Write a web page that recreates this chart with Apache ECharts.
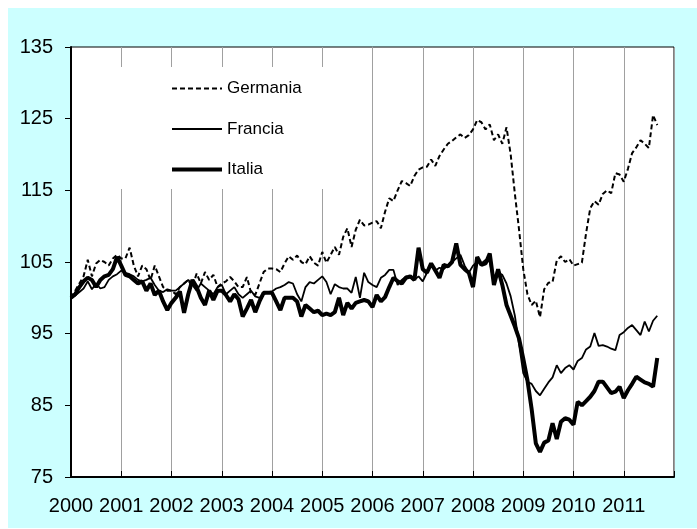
<!DOCTYPE html>
<html>
<head>
<meta charset="utf-8">
<script src="https://cdn.jsdelivr.net/npm/echarts@6/dist/echarts.min.js"></script>
<style>
  html, body { margin: 0; padding: 0; background: #ffffff; width: 697px; height: 529px; overflow: hidden; }
  #c { position: absolute; left: 8px; top: 8px; width: 689px; height: 520px; background: #CCFFFF; }
</style>
</head>
<body>
<div id="c"></div>
<script>
// Tick labels (one per January)
const years = ['2000','2001','2002','2003','2004','2005','2006','2007','2008','2009','2010','2011'];

// Monthly index values, Jan 2000 = 100 (Jan 2000 .. Sep 2011)
const germania = [
  100, 101, 102, 103, 105.3, 103, 104.8, 105.3, 105, 104.5, 105.5, 106,
  105.5, 105.5, 107, 104.5, 103, 104.5, 104, 102.5, 104.5, 103, 101.5, 101,
  101, 100.5, 101.5, 102, 102.5, 101.5, 103.4, 102, 103.6, 102.5, 103.2, 101.5,
  102, 102.3, 102.9, 102.3, 101.5, 101.5, 102.9, 100.7, 100.4, 102, 103.6, 104.1,
  104.1, 104, 103.6, 104.8, 105.8, 105.3, 105.9, 105, 104.7, 105.8, 104.9, 104.5,
  106.4, 104.9, 106, 107.1, 106, 108.5, 109.7, 107.1, 109.5, 110.9, 110.1, 110.2,
  110.5, 110.7, 109.7, 112, 113.9, 113.5, 115, 116.3, 116, 115.6, 117, 117.9,
  118.2, 118.3, 119.3, 118.4, 119.8, 120.7, 121.5, 121.9, 122.4, 122.8, 122.3, 122.7,
  123.5, 124.8, 124.5, 123.5, 124.2, 122, 122.8, 121.5, 123.8, 120, 114.5, 109.5,
  104, 100.5, 99, 99.6, 97.3, 101.2, 102.1, 102.2, 105.2, 105.8, 105, 105.4,
  104.5, 104.7, 104.9, 109, 112.5, 113.5, 113, 114.5, 115, 114.6, 117.4, 117.2,
  116.2, 118, 120.2, 121, 122, 121.5, 120.9, 125.5, 124.1
];
const francia = [
  100, 100.3, 100.8, 101.3, 102.3, 101.2, 102, 101.3, 101.5, 102.5, 103, 103.3,
  103.8, 103.5, 103.3, 103, 102.5, 102.3, 102.5, 102.8, 101.8, 101, 100.8, 101.2,
  101, 101, 101.5, 102, 102.5, 101.8, 101, 102, 101.5, 101, 100.5, 101.5,
  101.8, 100.5, 101, 101.5, 100.5, 100, 100.5, 101, 100.2, 100, 100.5, 100.8,
  100.9, 101.3, 101.5, 101.8, 102.2, 102, 100.5, 99.5, 101.5, 102.2, 102, 102.5,
  103, 102.2, 100.5, 101.9, 101.5, 101.3, 101.3, 100.7, 102.9, 100, 103.5, 102.2,
  101.8, 101.5, 102.8, 103.2, 103.9, 103.9, 101.8, 102.5, 103, 102.8, 102.5, 103,
  102.3, 103.5, 104.5, 103.8, 104.2, 104, 104.5, 105, 105.5, 106, 104.5, 103.5,
  104.5, 105, 104.8, 105.3, 105, 102, 103.5, 103.2, 102, 100.2, 97.5, 93.5,
  89.5, 88.3, 88, 87, 86.4, 87.3, 88.2, 88.9, 90.6, 89.5, 90.2, 90.6,
  90, 91.2, 91.6, 92.8, 93.2, 95.1, 93.3, 93.4, 93.2, 92.9, 92.7, 94.8,
  95.2, 95.8, 96.2, 95.5, 94.8, 96.7, 95.3, 96.8, 97.5
];
const italia = [
  100, 100.5, 101.5, 102.3, 102.8, 102.5, 101.5, 102.5, 103, 103.2, 104, 105.7,
  104.5, 103.2, 103, 102.5, 102, 102.3, 101, 102, 100.4, 101, 99.5, 98.3,
  99.3, 100, 100.9, 97.9, 100.5, 102.5, 101.5, 100, 99, 101, 99.7, 101,
  101, 100.4, 99.5, 100.5, 99.8, 97.4, 98.5, 99.7, 98, 99.5, 100.7, 100.7,
  100.7, 99.5, 98.3, 100, 100, 100, 99.5, 97.4, 99, 98.5, 98, 98.2,
  97.6, 97.8, 97.6, 98, 100, 97.6, 99.3, 98.5, 99.3, 99.5, 99.7, 99.5,
  98.7, 100.4, 99.5, 100.1, 101.5, 102.8, 102.3, 102, 102.8, 103, 102.5, 107,
  104, 103.5, 104.8, 103.8, 102.8, 104.6, 104.4, 105, 107.6, 104.6, 104, 103.5,
  101.5, 105.7, 104.6, 104.8, 106.2, 101.8, 104, 101.8, 99, 97.5, 96, 94.3,
  91.5, 88.5, 84.5, 79.7, 78.5, 79.8, 80.1, 82.5, 80.3, 82.7, 83.2, 83,
  82.3, 85.5, 85, 85.6, 86.2, 87, 88.3, 88.3, 87.5, 86.7, 86.9, 87.6,
  86, 87.1, 88, 89, 88.6, 88.2, 88, 87.6, 91.6
];

const toPairs = arr => arr.map((v, i) => [i, v]);
const FONT = "'Liberation Sans', Arial, sans-serif";
const styleGermania = { color: '#000', width: 2, type: [5, 3] };
const styleFrancia = { color: '#000', width: 1.8, type: 'solid' };
const styleItalia = { color: '#000', width: 4, type: 'solid' };

const chart = echarts.init(document.getElementById('c'), null, { renderer: 'canvas' });
chart.setOption({
  animation: false,
  backgroundColor: 'transparent',
  textStyle: { fontFamily: FONT },
  grid: {
    left: 63, top: 39, right: 23, bottom: 51,
    show: true, backgroundColor: '#ffffff', borderColor: '#000000', borderWidth: 1
  },
  legend: {
    orient: 'vertical',
    left: 102, top: 59,
    padding: [13, 45, 11, 60],
    backgroundColor: '#ffffff',
    itemWidth: 50, itemHeight: 14, itemGap: 23.5,
    itemStyle: { opacity: 0 },
    textStyle: { fontFamily: FONT, fontSize: 17, color: '#000' },
    data: [
      { name: 'Germania', lineStyle: styleGermania, itemStyle: { opacity: 0 } },
      { name: 'Francia', lineStyle: styleFrancia, itemStyle: { opacity: 0 } },
      { name: 'Italia', lineStyle: styleItalia, itemStyle: { opacity: 0 } }
    ]
  },
  xAxis: {
    type: 'value', min: 0, max: 144, interval: 12,
    axisLine: { show: true, lineStyle: { color: '#000', width: 2 } },
    axisTick: { show: true, inside: true, length: 6, lineStyle: { color: '#000', width: 1 } },
    axisLabel: {
      fontFamily: FONT, fontSize: 20, color: '#000', margin: 19,
      formatter: v => years[v / 12] || ''
    },
    splitLine: { show: true, lineStyle: { color: '#a0a0a0', width: 1 } }
  },
  yAxis: {
    type: 'value', min: 75, max: 135, interval: 10,
    axisLine: { show: true, lineStyle: { color: '#000', width: 2 } },
    axisTick: { show: true, inside: false, length: 6, lineStyle: { color: '#000', width: 1 } },
    axisLabel: { fontFamily: FONT, fontSize: 20, color: '#000', margin: 18 },
    splitLine: { show: false }
  },
  series: [
    {
      name: 'Germania', type: 'line', data: toPairs(germania), symbol: 'none',
      lineStyle: styleGermania, itemStyle: { color: '#000' }
    },
    {
      name: 'Francia', type: 'line', data: toPairs(francia), symbol: 'none',
      lineStyle: styleFrancia, itemStyle: { color: '#000' }
    },
    {
      name: 'Italia', type: 'line', data: toPairs(italia), symbol: 'none',
      lineStyle: styleItalia, itemStyle: { color: '#000' }
    }
  ]
});
</script>
</body>
</html>
